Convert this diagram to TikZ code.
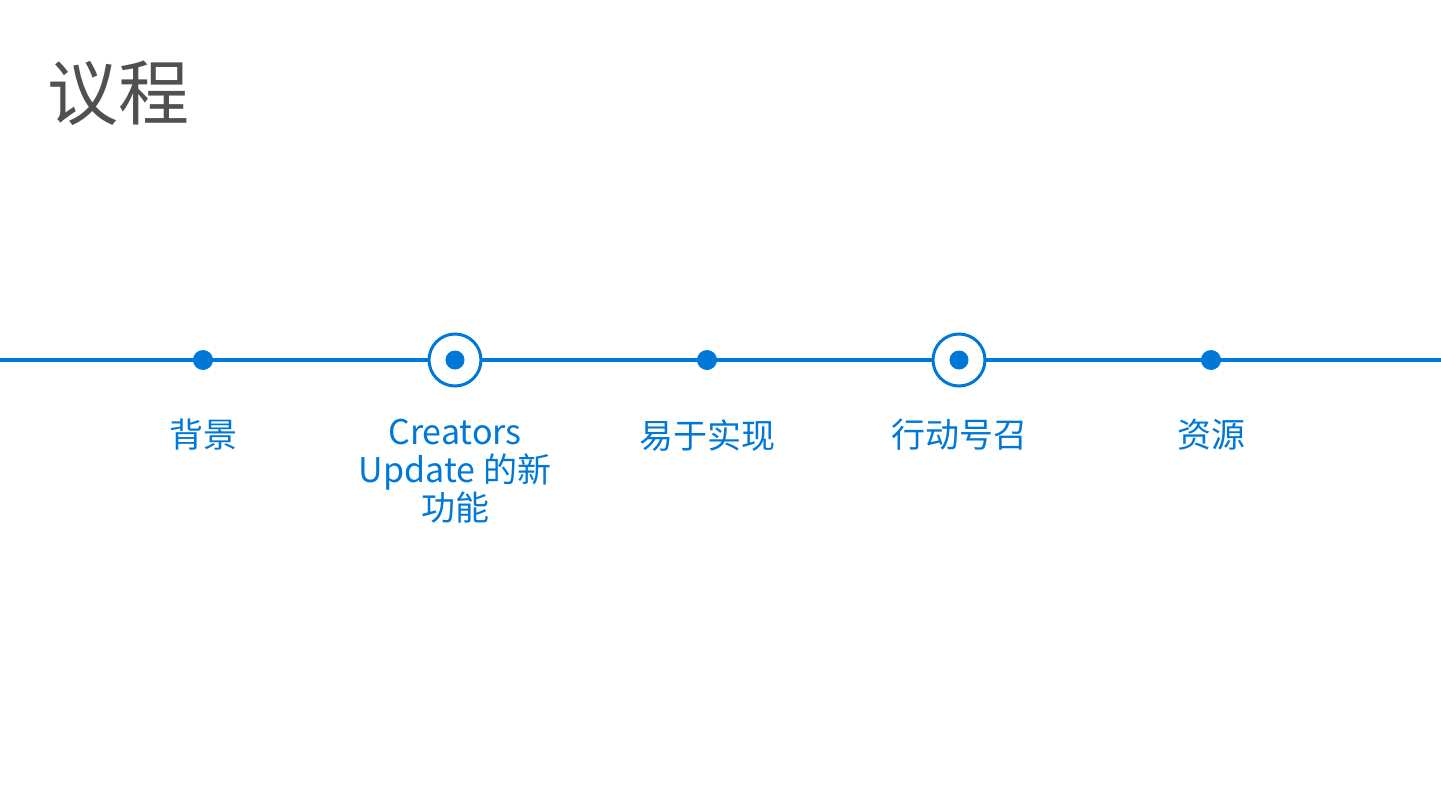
\documentclass[tikz,border=0pt]{standalone}
\usepackage{fontspec}
\setmainfont{Noto Sans CJK SC}
\definecolor{accent}{RGB}{0,120,215}
\definecolor{titlegray}{RGB}{80,80,80}
\begin{document}
\begin{tikzpicture}[x=1pt,y=-1pt,
  dotnode/.style={circle,fill=accent,inner sep=0pt,minimum size=20pt},
  ringnode/.style={circle,draw=accent,line width=3pt,fill=white,inner sep=0pt,minimum size=52pt},
  innerdot/.style={circle,fill=accent,inner sep=0pt,minimum size=19pt},
  label/.style={text=accent,font=\fontsize{34}{38}\selectfont,align=center,anchor=north,inner sep=0pt},
  timeline/.style={draw=accent,line width=3.5pt}]
\useasboundingbox (0,0) rectangle (1441,811);
\node[anchor=west,text=titlegray,font=\fontsize{71}{80}\selectfont,inner sep=0pt] (title) at (47,93) {议程};
\coordinate (lstart) at (0,360);
\coordinate (lend) at (1441,360);
\path[timeline] (lstart) -- (lend);
\node[dotnode] (d1) at (203,360) {};
\node[ringnode] (r1) at (455,360) {};
\node[innerdot] (r1c) at (455,360) {};
\node[dotnode] (d2) at (707,360) {};
\node[ringnode] (r2) at (959,360) {};
\node[innerdot] (r2c) at (959,360) {};
\node[dotnode] (d3) at (1211,360) {};
\node[label] (t1) at (203,419) {背景};
\node[label] (t2) at (455,419) {Creators\\Update 的新\\功能};
\node[label] (t3) at (707,419) {易于实现};
\node[label] (t4) at (959,419) {行动号召};
\node[label] (t5) at (1211,419) {资源};
\end{tikzpicture}
\end{document}
